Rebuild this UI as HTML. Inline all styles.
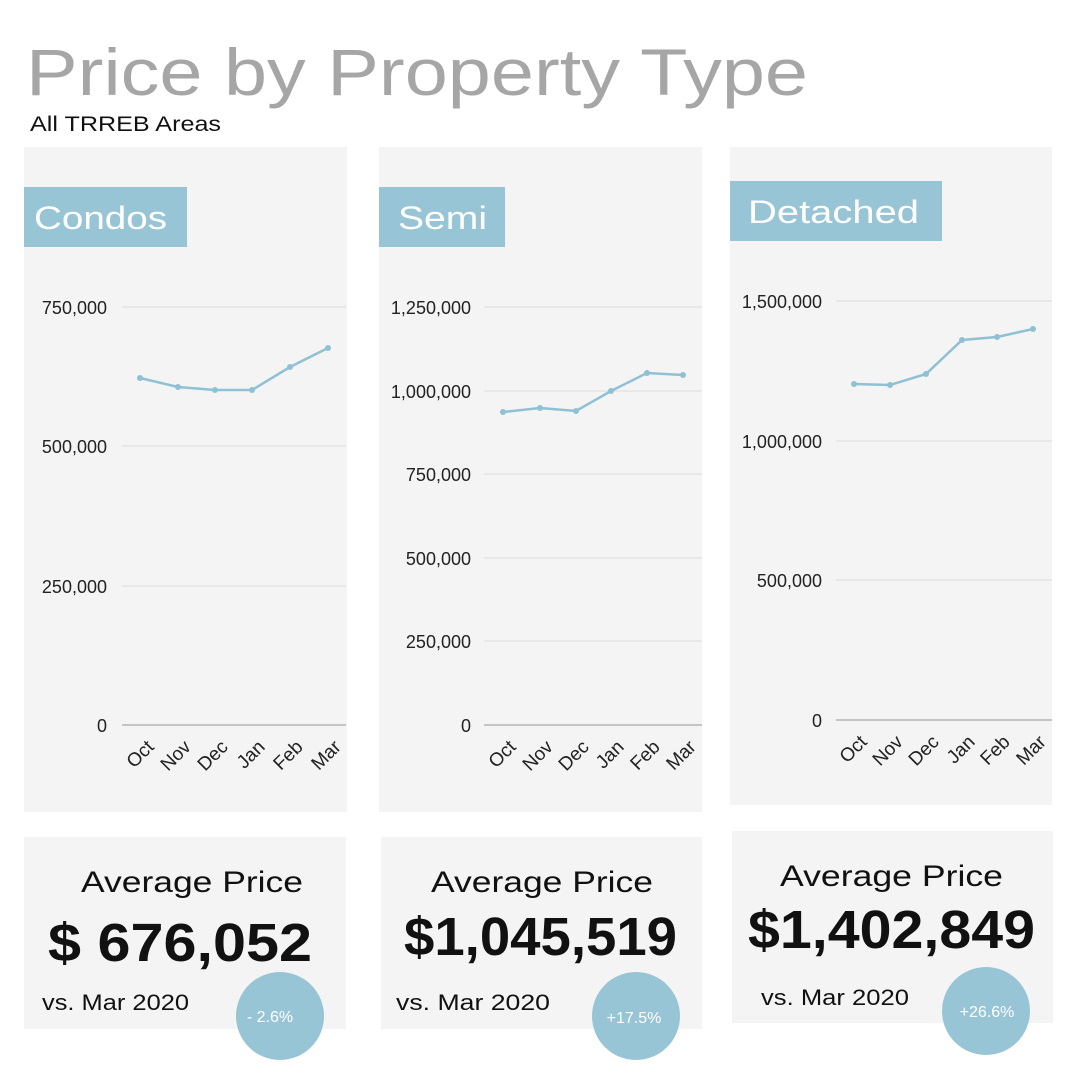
<!DOCTYPE html>
<html><head><meta charset="utf-8"><style>
html,body{margin:0;padding:0;background:#fff;}
svg{display:block;font-family:"Liberation Sans",sans-serif;}
</style></head><body>
<svg width="1080" height="1080" viewBox="0 0 1080 1080" xmlns="http://www.w3.org/2000/svg">
<rect width="1080" height="1080" fill="#fff"/>
<text x="26" y="95" font-size="66" fill="#a6a6a6" textLength="782" lengthAdjust="spacingAndGlyphs">Price by Property Type</text>
<text x="30" y="131" font-size="21" fill="#111" textLength="191" lengthAdjust="spacingAndGlyphs">All TRREB Areas</text>

<rect x="24" y="147" width="323" height="665" fill="#f4f4f4"/>
<rect x="379" y="147" width="323" height="665" fill="#f4f4f4"/>
<rect x="730" y="147" width="322" height="658" fill="#f4f4f4"/>

<rect x="24" y="187" width="163" height="60" fill="#98c5d6"/>
<text x="34" y="229" font-size="32" fill="#fff" textLength="133" lengthAdjust="spacingAndGlyphs">Condos</text>
<rect x="379" y="187" width="126" height="60" fill="#98c5d6"/>
<text x="398" y="229" font-size="32" fill="#fff" textLength="89" lengthAdjust="spacingAndGlyphs">Semi</text>
<rect x="730" y="181" width="212" height="60" fill="#98c5d6"/>
<text x="748" y="223" font-size="32" fill="#fff" textLength="171" lengthAdjust="spacingAndGlyphs">Detached</text>

<g stroke="#dcdcdc" stroke-width="1">
<line x1="122" y1="307" x2="346" y2="307"/><line x1="122" y1="446" x2="346" y2="446"/><line x1="122" y1="586" x2="346" y2="586"/>
<line x1="484" y1="307" x2="702" y2="307"/><line x1="484" y1="391" x2="702" y2="391"/><line x1="484" y1="474" x2="702" y2="474"/><line x1="484" y1="558" x2="702" y2="558"/><line x1="484" y1="641" x2="702" y2="641"/>
<line x1="836" y1="301" x2="1052" y2="301"/><line x1="836" y1="441" x2="1052" y2="441"/><line x1="836" y1="580" x2="1052" y2="580"/>
</g>
<g stroke="#a6a6a6" stroke-width="1.2">
<line x1="122" y1="725" x2="346" y2="725"/><line x1="484" y1="725" x2="702" y2="725"/><line x1="836" y1="720" x2="1052" y2="720"/>
</g>

<g font-size="18" fill="#222" text-anchor="end">
<text x="107" y="314">750,000</text><text x="107" y="453">500,000</text><text x="107" y="593">250,000</text><text x="107" y="732">0</text>
<text x="471" y="314">1,250,000</text><text x="471" y="398">1,000,000</text><text x="471" y="481">750,000</text><text x="471" y="565">500,000</text><text x="471" y="648">250,000</text><text x="471" y="732">0</text>
<text x="822" y="308">1,500,000</text><text x="822" y="448">1,000,000</text><text x="822" y="587">500,000</text><text x="822" y="727">0</text>
</g>

<g fill="none" stroke="#8fc1d4" stroke-width="2.5">
<polyline points="140,378 178,387 215,390 252,390 290,367 328,348"/>
<polyline points="503,412 540,408 576,411 611,391 647,373 683,375"/>
<polyline points="854,384 890,385 926,374 962,340 997,337 1033,329"/>
</g>
<g fill="#8fc1d4">
<circle cx="140" cy="378" r="3"/><circle cx="178" cy="387" r="3"/><circle cx="215" cy="390" r="3"/><circle cx="252" cy="390" r="3"/><circle cx="290" cy="367" r="3"/><circle cx="328" cy="348" r="3"/>
<circle cx="503" cy="412" r="3"/><circle cx="540" cy="408" r="3"/><circle cx="576" cy="411" r="3"/><circle cx="611" cy="391" r="3"/><circle cx="647" cy="373" r="3"/><circle cx="683" cy="375" r="3"/>
<circle cx="854" cy="384" r="3"/><circle cx="890" cy="385" r="3"/><circle cx="926" cy="374" r="3"/><circle cx="962" cy="340" r="3"/><circle cx="997" cy="337" r="3"/><circle cx="1033" cy="329" r="3"/>
</g>

<g font-size="19" fill="#222" text-anchor="end">
<text transform="translate(155,748) rotate(-45)">Oct</text><text transform="translate(192,748) rotate(-45)">Nov</text><text transform="translate(229,748) rotate(-45)">Dec</text><text transform="translate(266,748) rotate(-45)">Jan</text><text transform="translate(304,748) rotate(-45)">Feb</text><text transform="translate(342,748) rotate(-45)">Mar</text>
<text transform="translate(517,748) rotate(-45)">Oct</text><text transform="translate(554,748) rotate(-45)">Nov</text><text transform="translate(590,748) rotate(-45)">Dec</text><text transform="translate(625,748) rotate(-45)">Jan</text><text transform="translate(661,748) rotate(-45)">Feb</text><text transform="translate(697,748) rotate(-45)">Mar</text>
<text transform="translate(868,743) rotate(-45)">Oct</text><text transform="translate(904,743) rotate(-45)">Nov</text><text transform="translate(940,743) rotate(-45)">Dec</text><text transform="translate(976,743) rotate(-45)">Jan</text><text transform="translate(1011,743) rotate(-45)">Feb</text><text transform="translate(1047,743) rotate(-45)">Mar</text>
</g>

<rect x="24" y="837" width="322" height="192" fill="#f4f4f4"/>
<rect x="381" y="837" width="321" height="192" fill="#f4f4f4"/>
<rect x="732" y="831" width="321" height="192" fill="#f4f4f4"/>

<g fill="#111">
<text x="81" y="892" font-size="30" textLength="222" lengthAdjust="spacingAndGlyphs">Average Price</text>
<text x="48" y="961" font-size="54" font-weight="bold" textLength="264" lengthAdjust="spacingAndGlyphs">$ 676,052</text>
<text x="42" y="1010" font-size="22" textLength="147" lengthAdjust="spacingAndGlyphs">vs. Mar 2020</text>
<text x="431" y="892" font-size="30" textLength="222" lengthAdjust="spacingAndGlyphs">Average Price</text>
<text x="404" y="955" font-size="54" font-weight="bold" textLength="273" lengthAdjust="spacingAndGlyphs">$1,045,519</text>
<text x="396" y="1010" font-size="22" textLength="154" lengthAdjust="spacingAndGlyphs">vs. Mar  2020</text>
<text x="780" y="886" font-size="30" textLength="223" lengthAdjust="spacingAndGlyphs">Average Price</text>
<text x="748" y="948" font-size="54" font-weight="bold" textLength="287" lengthAdjust="spacingAndGlyphs">$1,402,849</text>
<text x="761" y="1005" font-size="22" textLength="148" lengthAdjust="spacingAndGlyphs">vs. Mar 2020</text>
</g>

<circle cx="280" cy="1016" r="44" fill="#98c5d6"/>
<circle cx="636" cy="1016" r="44" fill="#98c5d6"/>
<circle cx="986" cy="1011" r="44" fill="#98c5d6"/>
<g fill="#fff" font-size="16" text-anchor="middle">
<text x="270" y="1022">- 2.6%</text>
<text x="634" y="1023">+17.5%</text>
<text x="987" y="1017">+26.6%</text>
</g>
</svg>
</body></html>
